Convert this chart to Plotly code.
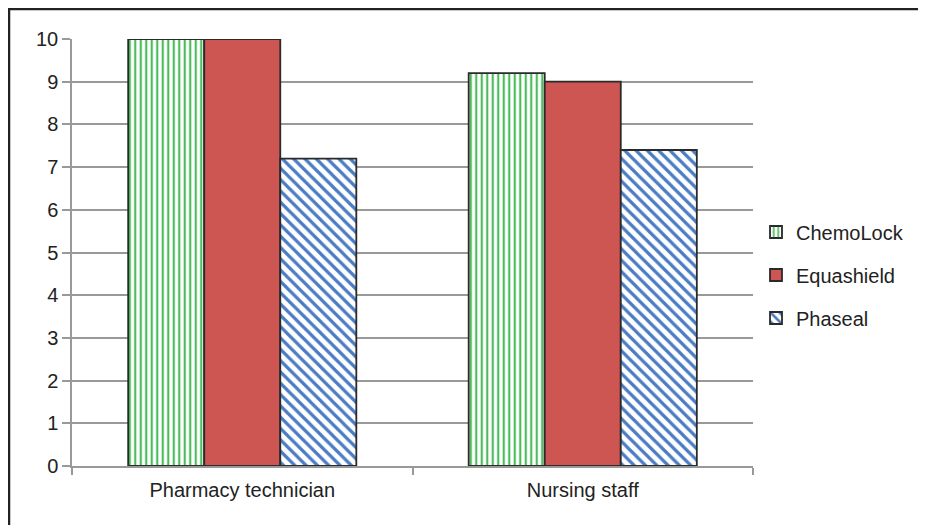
import plotly.graph_objects as go

categories = ["Pharmacy technician", "Nursing staff"]
series_names = ["ChemoLock", "Equashield", "Phaseal"]
chemolock = [10, 9.2]
equashield = [10, 9.0]
phaseal = [7.2, 7.4]
y_ticks = [0, 1, 2, 3, 4, 5, 6, 7, 8, 9, 10]

W, H = 926, 525
OFF = 8  # page body offset
L, R, T, B = 72 - OFF, 926 - (753 - OFF), 39 - OFF, 525 - (466 - OFF)
pw, ph = W - L - R, H - T - B

fig = go.Figure()
fig.add_trace(go.Bar(
    x=categories, y=chemolock, name=series_names[0], legendgroup="a",
    marker=dict(color="white", line=dict(color="#2a2a2a", width=1.8),
                pattern=dict(shape="|", fgcolor="#4cbb5c", bgcolor="white",
                             size=5.5, solidity=0.4, fillmode="replace")),
))
fig.add_trace(go.Bar(
    x=categories, y=equashield, name=series_names[1], legendgroup="b",
    marker=dict(color="#cd5652", line=dict(color="#2a2a2a", width=1.8)),
))
fig.add_trace(go.Bar(
    x=categories, y=phaseal, name=series_names[2], legendgroup="c",
    marker=dict(color="white", line=dict(color="#2a2a2a", width=1.8),
                pattern=dict(shape="\\", fgcolor="#4a7cc4", bgcolor="white",
                             size=8, solidity=0.4, fillmode="replace")),
))

def fx(v):
    # figure pixel -> paper x
    return (v - L) / pw

def fy(v):
    # figure pixel (from top) -> paper y
    return (H - B - v) / ph

fig.update_layout(
    width=W, height=H,
    margin=dict(l=L, r=R, t=T, b=B, autoexpand=False),
    paper_bgcolor="white", plot_bgcolor="white",
    font=dict(family="Liberation Sans, Arial, sans-serif", size=20, color="#222"),
    barmode="group", bargap=0.33, bargroupgap=0,
    legend=dict(x=fx(748), xanchor="left", y=fy(267), yanchor="middle",
                traceorder="grouped", tracegroupgap=14,
                font=dict(size=20, color="#222"), bgcolor="rgba(0,0,0,0)"),
    xaxis=dict(showline=True, linecolor="#999", linewidth=1.5,
               ticks="outside", tickson="boundaries", ticklen=7, tickcolor="#999",
               tickwidth=1.5, showgrid=False, tickfont=dict(size=20),
               ticklabelstandoff=5),
    yaxis=dict(range=[0, 10], tickvals=y_ticks, showline=True, linecolor="#999",
               linewidth=1.5, ticks="outside", ticklen=8, tickcolor="#999",
               tickwidth=1.5, showgrid=True, gridcolor="#999", gridwidth=1.5,
               zeroline=False, tickfont=dict(size=20)),
    shapes=[
        dict(type="line", xref="paper", yref="paper", x0=fx(0), x1=fx(940),
             y0=fy(1), y1=fy(1), line=dict(color="#222", width=2.5)),
        dict(type="line", xref="paper", yref="paper", x0=fx(1), x1=fx(1),
             y0=fy(0), y1=fy(540), line=dict(color="#222", width=2.5)),
    ],
)

fig.write_html("out.html")
